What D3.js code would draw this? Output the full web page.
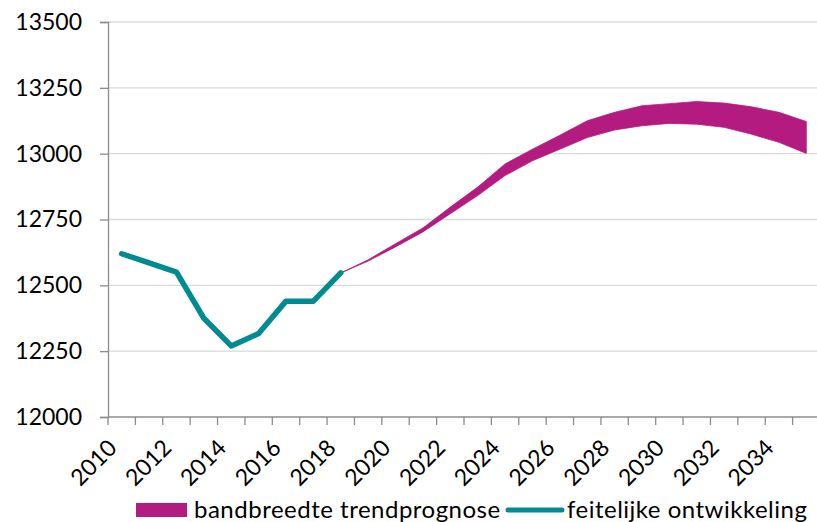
<!DOCTYPE html>
<html>
<head>
<meta charset="utf-8">
<script src="https://cdn.jsdelivr.net/npm/d3@7"></script>
<style>
  body { margin: 0; background: #fff; }
  svg { display: block; font-family: Lato, "Open Sans", sans-serif; }
</style>
</head>
<body>
<svg width="817" height="522"></svg>
<script>
// years on the category axis
var years = d3.range(2010, 2036);
var yTicks = [12000, 12250, 12500, 12750, 13000, 13250, 13500];

// actual development (feitelijke ontwikkeling)
var actualYears = [2010, 2011, 2012, 2013, 2014, 2015, 2016, 2017, 2018];
var actualValues = [12620, 12585, 12550, 12375, 12270, 12317, 12440, 12440, 12547];

// trend forecast band (bandbreedte trendprognose)
var bandYears = [2018, 2019, 2020, 2021, 2022, 2023, 2024, 2025, 2026, 2027, 2028, 2029, 2030, 2031, 2032, 2033, 2034, 2035];
var bandHigh = [12547, 12597, 12658, 12718, 12797, 12873, 12961, 13017, 13070, 13125, 13157, 13182, 13190, 13198, 13192, 13178, 13157, 13122];
var bandLow  = [12547, 12592, 12646, 12703, 12772, 12841, 12917, 12973, 13017, 13061, 13090, 13106, 13115, 13112, 13100, 13074, 13043, 13001];

var svg = d3.select("svg"),
    margin = {top: 22, right: -3, bottom: 105, left: 108},
    width = +svg.attr("width") - margin.left - margin.right,
    height = +svg.attr("height") - margin.top - margin.bottom;

var x = d3.scaleBand().domain(years).range([0, width]);
var y = d3.scaleLinear().domain([12000, 13500]).range([height, 0]);

var g = svg.append("g")
    .attr("transform", "translate(" + margin.left + "," + margin.top + ")");

// gridlines
g.append("g")
    .selectAll("line")
    .data(yTicks.slice(1))
    .enter().append("line")
    .attr("x1", 0)
    .attr("x2", width)
    .attr("y1", function(d) { return y(d); })
    .attr("y2", function(d) { return y(d); })
    .attr("stroke", "#d9d9d9")
    .attr("stroke-width", 1.3);

// y axis
var yAxis = g.append("g")
    .call(d3.axisLeft(y).tickValues(yTicks).tickSize(8).tickPadding(18).tickFormat(d3.format("d")));
yAxis.select(".domain").attr("stroke", "#8c8c8c").attr("stroke-width", 1.3);
yAxis.selectAll(".tick line").attr("stroke", "#8c8c8c").attr("stroke-width", 1.3);
yAxis.selectAll("text")
    .attr("font-family", "Lato, 'Open Sans', sans-serif")
    .attr("font-size", 23)
    .attr("fill", "#000");

// x axis: ticks on category boundaries
var xg = g.append("g").attr("transform", "translate(0," + height + ")");
xg.append("line")
    .attr("x1", 0).attr("x2", width)
    .attr("stroke", "#8c8c8c").attr("stroke-width", 1.3);
xg.selectAll(".xtick")
    .data(years)
    .enter().append("line")
    .attr("class", "xtick")
    .attr("x1", function(d) { return x(d); })
    .attr("x2", function(d) { return x(d); })
    .attr("y1", 0).attr("y2", 8)
    .attr("stroke", "#8c8c8c").attr("stroke-width", 1.3);
xg.selectAll(".xlabel")
    .data(years.filter(function(d) { return d % 2 === 0; }))
    .enter().append("text")
    .attr("class", "xlabel")
    .attr("transform", function(d) {
      return "translate(" + (x(d) + x.bandwidth() / 2 - 15) + ",21) rotate(-45)";
    })
    .attr("text-anchor", "end")
    .attr("dy", "0.7em")
    .attr("font-size", 23)
    .attr("fill", "#000")
    .text(function(d) { return d; });

var cx = function(yr) { return x(yr) + x.bandwidth() / 2; };

// forecast band
var area = d3.area()
    .x(function(d, i) { return cx(bandYears[i]); })
    .y0(function(d, i) { return y(bandLow[i]); })
    .y1(function(d, i) { return y(bandHigh[i]); });

g.append("path")
    .datum(bandYears)
    .attr("d", area)
    .attr("fill", "#b41b80")
    .attr("stroke", "#b41b80")
    .attr("stroke-width", 0.8);

// actual line
var line = d3.line()
    .x(function(d, i) { return cx(actualYears[i]); })
    .y(function(d) { return y(d); });

g.append("path")
    .datum(actualValues)
    .attr("d", line)
    .attr("fill", "none")
    .attr("stroke", "#008a91")
    .attr("stroke-width", 5.5)
    .attr("stroke-linecap", "round")
    .attr("stroke-linejoin", "round");

// legend
var legend = svg.append("g")
    .attr("font-size", 24)
    .attr("letter-spacing", 0.5)
    .attr("fill", "#000");
legend.append("rect")
    .attr("x", 136).attr("y", 503)
    .attr("width", 51).attr("height", 14)
    .attr("fill", "#b41b80");
legend.append("text")
    .attr("x", 194).attr("y", 518)
    .text("bandbreedte trendprognose");
legend.append("line")
    .attr("x1", 508).attr("x2", 562)
    .attr("y1", 510).attr("y2", 510)
    .attr("stroke", "#008a91")
    .attr("stroke-width", 5)
    .attr("stroke-linecap", "round");
legend.append("text")
    .attr("x", 567).attr("y", 518)
    .text("feitelijke ontwikkeling");
</script>
</body>
</html>
